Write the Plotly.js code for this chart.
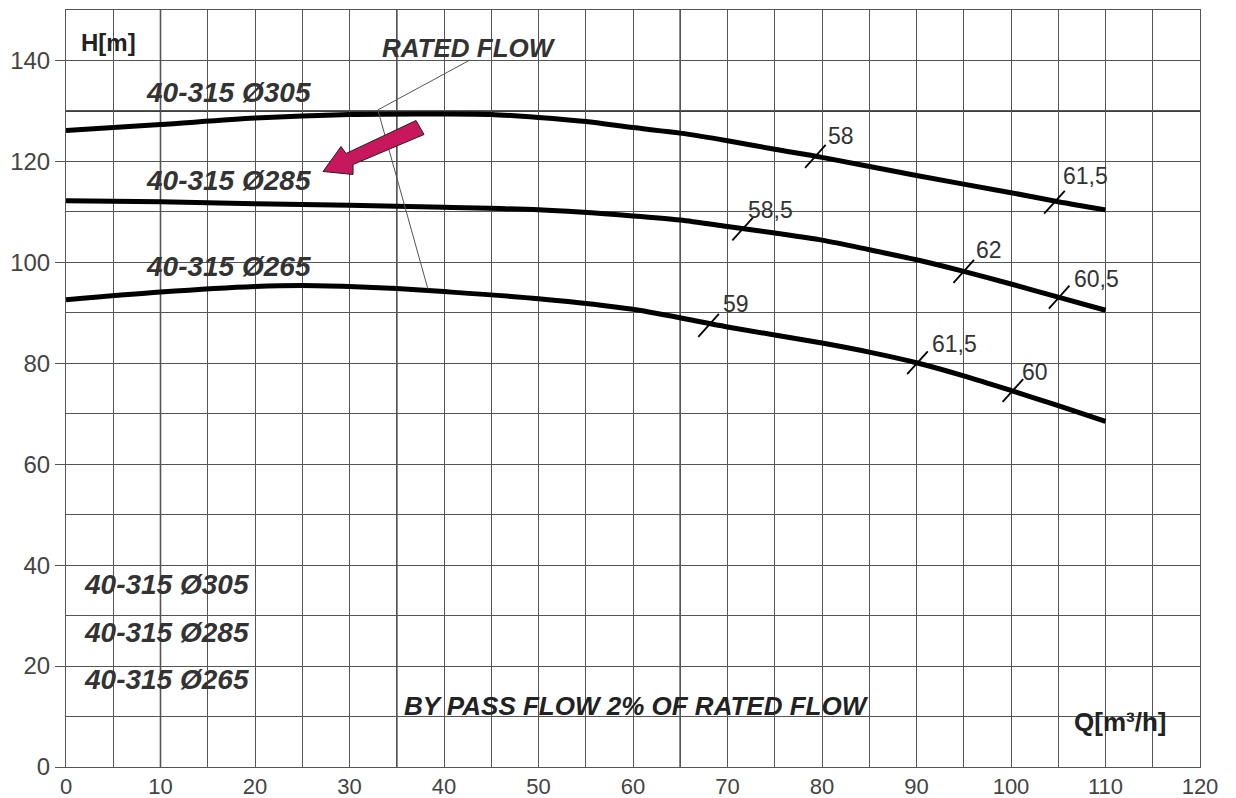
<!DOCTYPE html>
<html>
<head>
<meta charset="utf-8">
<script src="https://cdn.plot.ly/plotly-3.0.1.min.js"></script>
<style>html,body{margin:0;padding:0;background:#fff;}#chart{width:1236px;height:798px;}</style>
</head>
<body>
<div id="chart"></div>
<script>
// Pump curves H(Q) for 40-315 impellers
const Q305 = [0, 10, 20, 30, 40, 45, 50, 55, 60, 65, 70, 75, 80, 90, 100, 105, 110];
const H305 = [126.1, 127.3, 128.6, 129.3, 129.4, 129.3, 128.7, 127.9, 126.7, 125.6, 124.1, 122.4, 120.8, 117.2, 113.8, 112.0, 110.4];
const Q285 = [0, 10, 20, 30, 40, 50, 60, 65, 70, 75, 80, 85, 90, 95, 100, 105, 110];
const H285 = [112.2, 112.0, 111.6, 111.3, 110.9, 110.4, 109.2, 108.4, 107.1, 105.8, 104.4, 102.5, 100.5, 98.2, 95.7, 93.1, 90.5];
const Q265 = [0, 10, 20, 25, 30, 35, 40, 50, 60, 70, 80, 85, 90, 95, 100, 105, 110];
const H265 = [92.6, 94.1, 95.2, 95.4, 95.2, 94.8, 94.2, 92.8, 90.7, 87.2, 84.0, 82.2, 80.1, 77.5, 74.6, 71.6, 68.5];

// efficiency marks (%) on each curve
const effQ305 = [79.3, 104.6];
const effH305 = [121.0, 111.9];
const effL305 = ['58', '61,5'];
const effQ285 = [71.6, 95.0, 105.1];
const effH285 = [106.6, 98.2, 93.1];
const effL285 = ['58,5', '62', '60,5'];
const effQ265 = [68.0, 90.1, 100.2];
const effH265 = [87.5, 80.1, 74.6];
const effL265 = ['59', '61,5', '60'];

// rated flow line
const ratedQ = [33.0, 38.3];
const ratedH = [130.2, 94.7];
const ratedLeaderQ = [42.75, 33.0];
const ratedLeaderH = [140.1, 130.2];

const curveNames = ['40-315 Ø305', '40-315 Ø285', '40-315 Ø265'];
const curveLabelQ = [17.2, 17.2, 17.2];
const curveLabelH = [133.7, 116.2, 99.1];
const listLabelQ = [10.6, 10.6, 10.6];
const listLabelH = [36.2, 26.7, 17.3];

const heavyGridQ = [10, 35, 65];
const heavyGridH = [130];

// label placement (pixel offsets from each efficiency mark) - styling only
const effShift305 = [[26, 20], [31, 26]];
const effShift285 = [[28, 19], [25, 21], [37, 18]];
const effShift265 = [[27, 21], [37, 19], [22, 19]];

const FONT = 'Liberation Sans, Arial, sans-serif';
const curveLine = {color: '#000', width: 5, shape: 'spline', smoothing: 0.8};

const traces = [
  {x: Q305, y: H305, mode: 'lines', line: curveLine},
  {x: Q285, y: H285, mode: 'lines', line: curveLine},
  {x: Q265, y: H265, mode: 'lines', line: curveLine},
  {x: ratedQ, y: ratedH, mode: 'lines', line: {color: '#555', width: 1}},
  {x: ratedLeaderQ, y: ratedLeaderH, mode: 'lines', line: {color: '#555', width: 1}},
];
const effMarker = {symbol: 'line-ns', size: 22, angle: 42, line: {color: '#000', width: 1.8}};
[[effQ305, effH305], [effQ285, effH285], [effQ265, effH265]].forEach(([q, h]) => {
  traces.push({x: q, y: h, mode: 'markers', marker: effMarker});
});
traces.forEach(t => { t.showlegend = false; t.hoverinfo = 'skip'; t.cliponaxis = false; });

const annotations = [];
function addText(x, y, text, opts) {
  annotations.push(Object.assign({x: x, y: y, xref: 'x', yref: 'y', text: text, showarrow: false}, opts));
}
const boldItalic = {family: FONT, size: 28, color: '#333', weight: 'bold', style: 'italic'};
curveNames.forEach((n, i) => {
  addText(curveLabelQ[i], curveLabelH[i], n, {font: boldItalic});
  addText(listLabelQ[i], listLabelH[i], n, {font: boldItalic});
});
addText(42.6, 142.4, 'RATED FLOW', {font: {family: FONT, size: 26, color: '#333', weight: 'bold', style: 'italic'}});
addText(60.4, 12.0, 'BY PASS FLOW 2% OF RATED FLOW', {font: {family: FONT, size: 26, color: '#222', weight: 'bold', style: 'italic'}});
addText(4.5, 143.5, 'H[m]', {font: {family: FONT, size: 24, color: '#222', weight: 'bold'}});
addText(111.5, 8.9, 'Q[m³/h]', {font: {family: FONT, size: 26, color: '#222', weight: 'bold'}});

[[effQ305, effH305, effL305, effShift305], [effQ285, effH285, effL285, effShift285],
 [effQ265, effH265, effL265, effShift265]].forEach(([q, h, l, s]) => {
  q.forEach((qq, i) => addText(qq, h[i], l[i], {xanchor: 'center', yanchor: 'middle', xshift: s[i][0], yshift: s[i][1],
    font: {family: FONT, size: 23, color: '#333'}}));
});

const shapes = [];
heavyGridQ.forEach(q => shapes.push({type: 'line', xref: 'x', yref: 'paper', x0: q, x1: q, y0: 0, y1: 1,
  line: {color: '#000', width: 1.4}, layer: 'below'}));
heavyGridH.forEach(h => shapes.push({type: 'line', xref: 'paper', yref: 'y', x0: 0, x1: 1, y0: h, y1: h,
  line: {color: '#000', width: 1.4}, layer: 'below'}));
// magenta arrow pointing at the Ø285 curve label
shapes.push({type: 'path', xref: 'x', yref: 'y', xsizemode: 'pixel', ysizemode: 'pixel',
  xanchor: 27.2, yanchor: 118.0,
  path: 'M 0,0 L 18,25 L 23,18 L 93,51 L 101,37 L 30,7 L 30,-3 Z',
  fillcolor: '#C8175D', line: {color: '#222', width: 1}});

const layout = {
  width: 1236, height: 798,
  margin: {l: 66, r: 36, t: 10, b: 31},
  paper_bgcolor: '#fff', plot_bgcolor: '#fff',
  showlegend: false, hovermode: false,
  font: {family: FONT, color: '#444'},
  xaxis: {
    range: [0, 120], dtick: 10, tick0: 0, showgrid: true, gridcolor: '#555', gridwidth: 1,
    minor: {dtick: 5, showgrid: true, gridcolor: '#555', gridwidth: 1},
    zeroline: false, showline: true, linecolor: '#555', linewidth: 1, mirror: true,
    ticks: '', tickfont: {family: FONT, size: 22, color: '#444'}, fixedrange: true
  },
  yaxis: {
    range: [0, 150], dtick: 20, tick0: 0, showgrid: true, gridcolor: '#555', gridwidth: 1,
    minor: {dtick: 10, showgrid: true, gridcolor: '#555', gridwidth: 1},
    zeroline: false, showline: true, linecolor: '#555', linewidth: 1, mirror: true,
    ticks: 'outside', ticklen: 10, tickcolor: '#555',
    tickfont: {family: FONT, size: 24, color: '#444'}, fixedrange: true
  },
  shapes: shapes,
  annotations: annotations
};

Plotly.newPlot('chart', traces, layout, {displayModeBar: false, staticPlot: true});
</script>
</body>
</html>
